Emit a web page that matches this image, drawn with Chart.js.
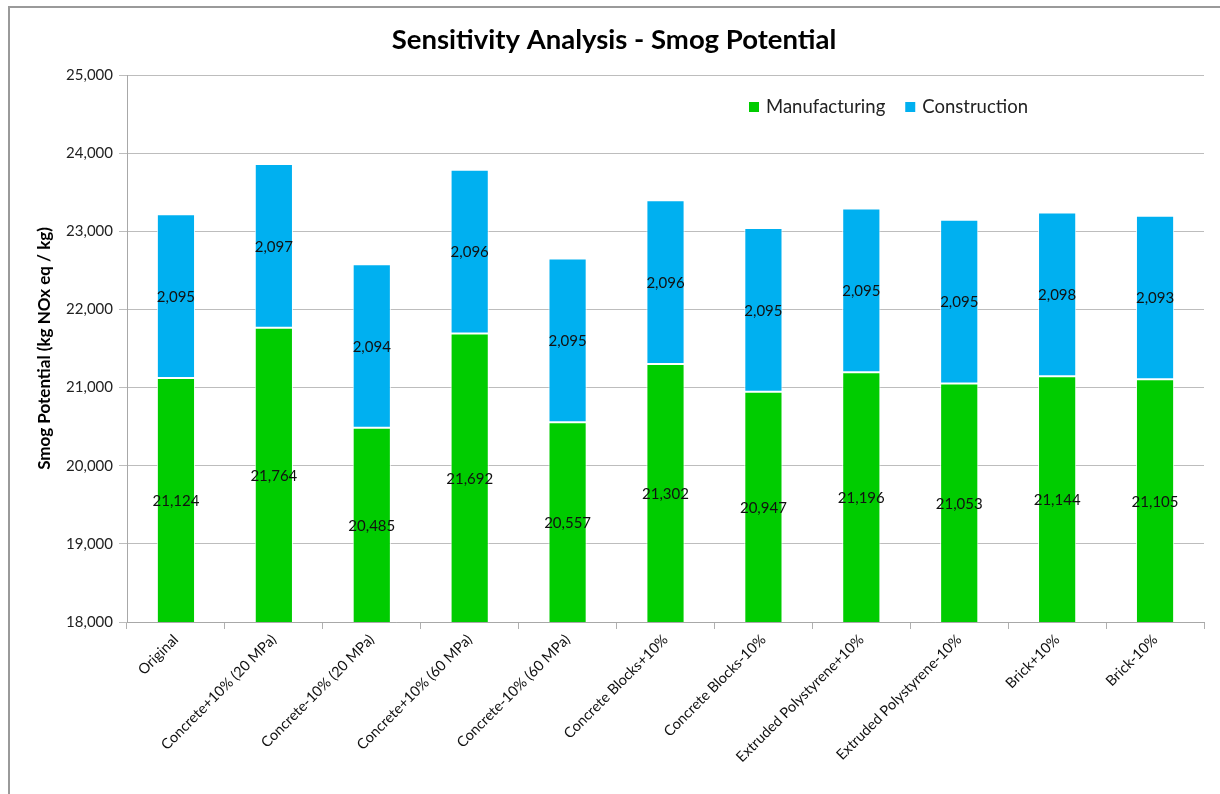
<!DOCTYPE html>
<html>
<head>
<meta charset="utf-8">
<title>Sensitivity Analysis - Smog Potential</title>
<script src="https://cdn.jsdelivr.net/npm/chart.js@4"></script>
<style>
    body { margin: 0; background: #ffffff; }
    .wrap { position: relative; width: 1220px; height: 794px; overflow: hidden; }
    .frame { position: absolute; left: 8px; top: 6px; width: 1300px; height: 900px; border: 2px solid #9a9a9a; }
    #chart { position: absolute; left: 0; top: 0; }
</style>
</head>
<body>
<div class="wrap">
    <div class="frame"></div>
    <canvas id="chart" width="1220" height="794"></canvas>
</div>
<script>
// Scenario names along the x axis
const scenarios = [
    "Original",
    "Concrete+10% (20 MPa)",
    "Concrete-10% (20 MPa)",
    "Concrete+10% (60 MPa)",
    "Concrete-10% (60 MPa)",
    "Concrete Blocks+10%",
    "Concrete Blocks-10%",
    "Extruded Polystyrene+10%",
    "Extruded Polystyrene-10%",
    "Brick+10%",
    "Brick-10%"
];

// Smog potential per phase (kg NOx eq / kg)
const manufacturing = [21124, 21764, 20485, 21692, 20557, 21302, 20947, 21196, 21053, 21144, 21105];
const construction = [2095, 2097, 2094, 2096, 2095, 2096, 2095, 2095, 2095, 2098, 2093];

// Value axis range
const yMin = 18000;
const yMax = 25000;
const yStep = 1000;

const TITLE = "Sensitivity Analysis - Smog Potential";
const FONT = "Lato, 'Open Sans', sans-serif";
const GREEN = "#00cc00";
const BLUE = "#00b0f0";

const numberFormat = new Intl.NumberFormat("en-US");

// Writes each segment's value in the middle of the part that is visible
const segmentLabels = {
    id: "segmentLabels",
    afterDatasetsDraw(chart) {
        const ctx = chart.ctx;
        const area = chart.chartArea;
        ctx.save();
        ctx.font = "15px " + FONT;
        ctx.fillStyle = "#111111";
        ctx.textAlign = "center";
        ctx.textBaseline = "middle";
        chart.data.datasets.forEach(function(ds, i) {
            chart.getDatasetMeta(i).data.forEach(function(bar, j) {
                const top = Math.max(Math.min(bar.y, bar.base), area.top);
                const bottom = Math.min(Math.max(bar.y, bar.base), area.bottom);
                ctx.fillText(numberFormat.format(ds.data[j]), bar.x, (top + bottom) / 2 + 1);
            });
        });
        ctx.restore();
    }
};

// Title and legend, both drawn on top of the layout
const headerAndLegend = {
    id: "headerAndLegend",
    afterDraw(chart) {
        const ctx = chart.ctx;
        ctx.save();

        ctx.font = "bold 27.5px " + FONT;
        ctx.fillStyle = "#000000";
        ctx.textAlign = "center";
        ctx.textBaseline = "middle";
        ctx.fillText(TITLE, 614, 40);

        let x = 749;
        const y = 107;
        ctx.font = "18.5px " + FONT;
        ctx.textAlign = "left";
        chart.data.datasets.forEach(function(ds) {
            ctx.fillStyle = ds.backgroundColor;
            ctx.fillRect(x, y - 5, 10, 10);
            ctx.fillStyle = "#222222";
            ctx.fillText(ds.label, x + 17, y);
            x += 17 + ctx.measureText(ds.label).width + 20;
        });
        ctx.restore();
    }
};

new Chart(document.getElementById("chart"), {
    type: "bar",
    data: {
        labels: scenarios,
        datasets: [
            {
                label: "Manufacturing",
                data: manufacturing,
                backgroundColor: GREEN,
                borderColor: "rgba(255,255,255,0.85)",
                borderWidth: 1,
                borderSkipped: false
            },
            {
                label: "Construction",
                data: construction,
                backgroundColor: BLUE,
                borderColor: "rgba(255,255,255,0.85)",
                borderWidth: 1,
                borderSkipped: false
            }
        ]
    },
    options: {
        responsive: false,
        animation: false,
        layout: { padding: { top: 75, left: 0, right: 16, bottom: 0 } },
        datasets: {
            bar: { categoryPercentage: 1, barPercentage: 0.39 }
        },
        plugins: {
            legend: { display: false },
            tooltip: { enabled: false },
            title: { display: false }
        },
        scales: {
            x: {
                stacked: true,
                grid: { drawOnChartArea: false, drawTicks: true, tickLength: 7, color: "#b0b0b0", offset: true },
                border: { display: true, color: "#a8a8a8", width: 1 },
                ticks: {
                    autoSkip: false,
                    minRotation: 45,
                    maxRotation: 45,
                    padding: 2,
                    color: "#111111",
                    font: { family: FONT, size: 14.5 }
                },
                afterFit(scale) { scale.height = 172; }
            },
            y: {
                stacked: true,
                min: yMin,
                max: yMax,
                grid: { color: "#bdbdbd", tickLength: 8 },
                border: { display: true, color: "#a8a8a8", width: 1 },
                ticks: {
                    stepSize: yStep,
                    padding: 6,
                    color: "#222222",
                    font: { family: FONT, size: 15 },
                    callback: function(v) { return numberFormat.format(v); }
                },
                title: {
                    display: true,
                    text: "Smog Potential (kg NOx eq / kg)",
                    color: "#000000",
                    font: { family: FONT, size: 17, weight: "bold" },
                    padding: { top: 34, bottom: 0 }
                },
                afterFit(scale) { scale.width = 127; }
            }
        }
    },
    plugins: [segmentLabels, headerAndLegend]
});
</script>
</body>
</html>
